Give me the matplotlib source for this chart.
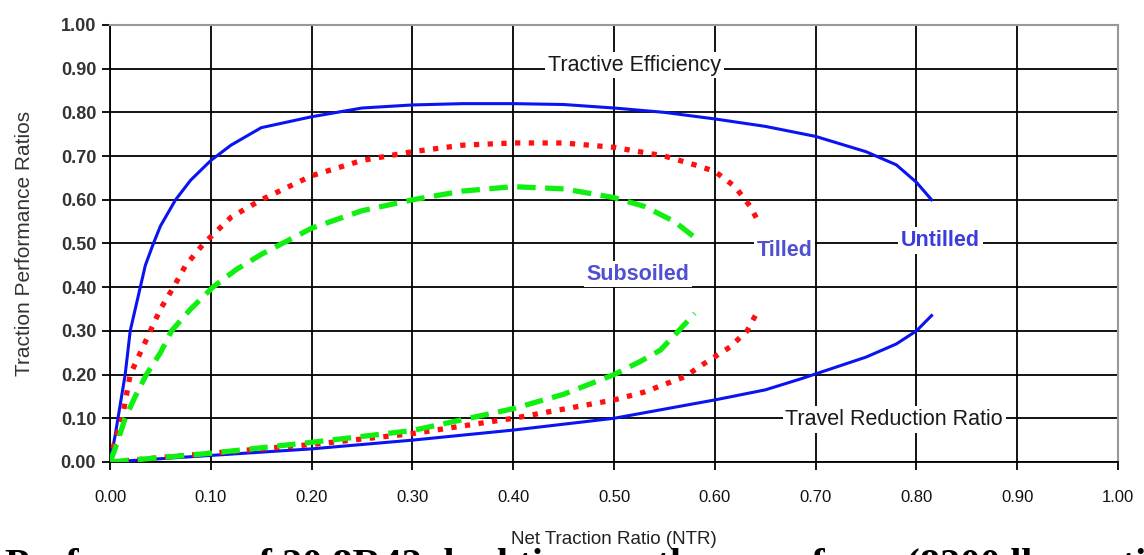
import numpy as np
import matplotlib.pyplot as plt

# tractive efficiency curves (x = NTR, y = TE)
untilled_te_x = [0.0, 0.005, 0.01, 0.015, 0.02, 0.025, 0.03, 0.035, 0.043, 0.05, 0.065, 0.08, 0.10, 0.12, 0.15,
                 0.20, 0.25, 0.30, 0.35, 0.40, 0.45, 0.50, 0.55, 0.60, 0.65, 0.70, 0.75, 0.78, 0.80, 0.815]
untilled_te_y = [0.0, 0.06, 0.13, 0.20, 0.30, 0.35, 0.40, 0.45, 0.50, 0.54, 0.60, 0.645, 0.69, 0.725, 0.765,
                 0.79, 0.81, 0.817, 0.82, 0.82, 0.818, 0.81, 0.80, 0.785, 0.768, 0.745, 0.71, 0.68, 0.64, 0.60]
tilled_te_x = [0.0, 0.005, 0.012, 0.02, 0.03, 0.04, 0.05, 0.063, 0.075, 0.093, 0.12, 0.15, 0.20, 0.25, 0.30,
               0.35, 0.40, 0.45, 0.50, 0.55, 0.58, 0.60, 0.62, 0.635, 0.642]
tilled_te_y = [0.0, 0.05, 0.10, 0.20, 0.25, 0.30, 0.35, 0.40, 0.45, 0.50, 0.56, 0.60, 0.655, 0.69, 0.71,
               0.725, 0.73, 0.73, 0.72, 0.70, 0.68, 0.665, 0.63, 0.585, 0.555]
subsoiled_te_x = [0.0, 0.005, 0.015, 0.025, 0.036, 0.05, 0.061, 0.08, 0.102, 0.125, 0.15, 0.20, 0.25, 0.30,
                  0.35, 0.40, 0.45, 0.50, 0.53, 0.56, 0.585]
subsoiled_te_y = [0.0, 0.03, 0.10, 0.15, 0.20, 0.25, 0.30, 0.35, 0.40, 0.44, 0.475, 0.535, 0.575, 0.60,
                  0.62, 0.63, 0.625, 0.605, 0.585, 0.55, 0.505]

# travel reduction curves
untilled_trr_x = [0.0, 0.10, 0.20, 0.30, 0.40, 0.50, 0.60, 0.65, 0.685, 0.75, 0.78, 0.80, 0.815]
untilled_trr_y = [0.0, 0.015, 0.03, 0.05, 0.073, 0.10, 0.142, 0.165, 0.19, 0.24, 0.27, 0.30, 0.335]
tilled_trr_x = [0.0, 0.10, 0.20, 0.30, 0.40, 0.50, 0.53, 0.57, 0.59, 0.615, 0.632, 0.642]
tilled_trr_y = [0.0, 0.02, 0.04, 0.065, 0.10, 0.142, 0.16, 0.195, 0.226, 0.263, 0.30, 0.343]
subsoiled_trr_x = [0.0, 0.10, 0.20, 0.30, 0.40, 0.45, 0.50, 0.526, 0.546, 0.562, 0.58]
subsoiled_trr_y = [0.0, 0.02, 0.045, 0.072, 0.122, 0.155, 0.20, 0.23, 0.256, 0.295, 0.34]

ticks = np.round(np.arange(0, 1.01, 0.1), 2)
tick_labels = [f'{t:.2f}' for t in ticks]

fig = plt.figure(figsize=(11.44, 5.55), dpi=100)
ax = fig.add_axes([0.0962, 0.1676, 0.8811, 0.7874])

blue, red, green = '#0a14f0', '#ff1010', '#10f010'
ax.plot(untilled_te_x, untilled_te_y, color=blue, lw=2.2, zorder=3)
ax.plot(untilled_trr_x, untilled_trr_y, color=blue, lw=2.2, zorder=3)
ax.plot(tilled_te_x, tilled_te_y, color=red, lw=3.8, ls=(0, (1, 1.6)), zorder=3)
ax.plot(tilled_trr_x, tilled_trr_y, color=red, lw=3.8, ls=(0, (1, 1.6)), zorder=3)
ax.plot(subsoiled_te_x, subsoiled_te_y, color=green, lw=3.8, ls=(0, (3.5, 1.8)), zorder=3)
ax.plot(subsoiled_trr_x, subsoiled_trr_y, color=green, lw=3.8, ls=(0, (3.5, 1.8)), zorder=3)

ax.set_xlim(0, 1)
ax.set_ylim(0, 1)
ax.set_xticks(ticks)
ax.set_yticks(ticks)
ax.set_xticklabels(tick_labels, fontsize=12, family='Liberation Sans', color='#111111')
ax.set_yticklabels(tick_labels, fontsize=13, family='Liberation Sans', fontweight='bold', color='#333333')
ax.tick_params(axis='both', direction='out', length=6, width=1.3, color='black')
ax.tick_params(axis='x', pad=14)
ax.tick_params(axis='y', pad=4)
ax.grid(True, color='black', lw=1.3, zorder=1)
ax.set_axisbelow(True)
for side in ['left', 'bottom']:
    ax.spines[side].set_color('black')
    ax.spines[side].set_linewidth(1.3)
for side in ['top', 'right']:
    ax.spines[side].set_color('#999999')
    ax.spines[side].set_linewidth(1.5)

ax.set_ylabel('Traction Performance Ratios', fontsize=15, family='Liberation Sans', color='#333333', labelpad=19)
ax.set_xlabel('Net Traction Ratio (NTR)', fontsize=13.5, family='Liberation Sans', color='#222222', labelpad=19)
ax.xaxis.label.set_zorder(5)

box = dict(facecolor='white', edgecolor='none', pad=2)
ax.text(0.52, 0.908, 'Tractive Efficiency', fontsize=15.5, family='Liberation Sans', color='#1a1a1a',
        ha='center', va='center', bbox=box, zorder=4)
ax.text(0.778, 0.097, 'Travel Reduction Ratio', fontsize=15.5, family='Liberation Sans', color='#1a1a1a',
        ha='center', va='center', bbox=box, zorder=4)
ax.text(0.824, 0.507, 'Untilled', fontsize=15.5, family='Liberation Sans', fontweight='bold', color='#3c3cdc',
        ha='center', va='center', bbox=box, zorder=4)
ax.text(0.669, 0.485, 'Tilled', fontsize=15.5, family='Liberation Sans', fontweight='bold', color='#5050d0',
        ha='center', va='center', bbox=box, zorder=4)
ax.text(0.524, 0.430, 'Subsoiled', fontsize=15.5, family='Liberation Sans', fontweight='bold', color='#5050d0',
        ha='center', va='center', bbox=box, zorder=4)

# caption of the source page, mostly below the crop
fig.text(0.004, 0.012, 'Performance of 20.8R42 dual tires on three surfaces (8200 lb per tire)', fontsize=29,
         family='Liberation Serif', fontweight='bold', color='black', ha='left', va='top', zorder=0)

fig.savefig('out.png', dpi=100)
